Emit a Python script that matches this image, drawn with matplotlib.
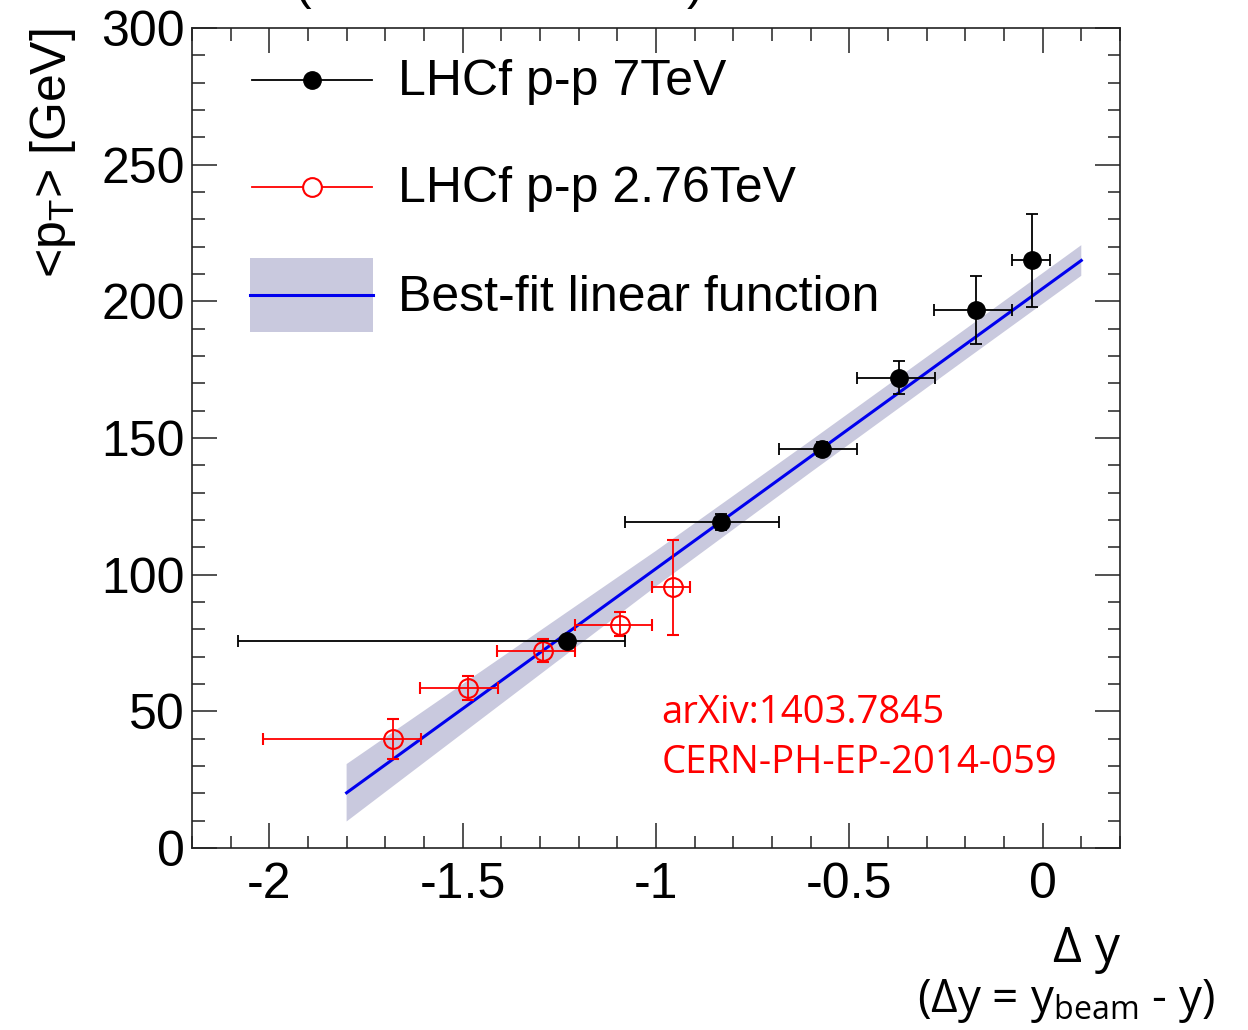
import matplotlib
matplotlib.use("Agg")
import matplotlib.pyplot as plt
from matplotlib.ticker import MultipleLocator
import numpy as np

# ---- data ----
x_7 = [-1.231, -0.831, -0.570, -0.372, -0.173, -0.028]
y_7 = [75.7, 119.3, 146.0, 172.0, 196.8, 215.1]
x7_lo = [0.849, 0.250, 0.111, 0.108, 0.108, 0.052]
x7_hi = [0.150, 0.150, 0.090, 0.093, 0.093, 0.048]
y7_lo = [2.0, 3.0, 2.5, 6.0, 12.5, 17.0]
y7_hi = [2.0, 3.0, 2.5, 6.0, 12.5, 17.0]

x_276 = [-1.680, -1.486, -1.293, -1.094, -0.957]
y_276 = [39.9, 58.5, 72.1, 81.6, 95.5]
x276_lo = [0.335, 0.124, 0.119, 0.116, 0.052]
x276_hi = [0.072, 0.077, 0.083, 0.085, 0.046]
y276_lo = [7.3, 4.3, 4.1, 4.0, 17.6]
y276_hi = [7.3, 4.4, 4.4, 4.8, 17.2]

fit_slope = 102.5
fit_intercept = 204.7
band_x = [-1.8, -1.4, -1.0, -0.6, -0.2, 0.1]
band_half = [10.5, 8.5, 6.5, 5.8, 5.6, 5.6]

xticks = [-2, -1.5, -1, -0.5, 0]
xticklabels = ["-2", "-1.5", "-1", "-0.5", "0"]
yticks = [0, 50, 100, 150, 200, 250, 300]

band_color = (0.79, 0.79, 0.87)

plt.rcParams['font.family'] = ['Liberation Sans', 'DejaVu Sans']
fig = plt.figure(figsize=(12.48, 10.30), dpi=100)
ax = fig.add_axes([0.1538, 0.1767, 0.7436, 0.7961])
ax.set_xlim(-2.2, 0.2)
ax.set_ylim(0, 300)

# fit band and line
bx = np.array(band_x)
by = fit_intercept + fit_slope * bx
bh = np.array(band_half)
ax.fill_between(bx, by - bh, by + bh, facecolor=band_color, edgecolor='none', zorder=1)
ax.plot(bx, by, color='#0000ee', lw=2.2, zorder=2)

# data
ax.errorbar(x_7, y_7, xerr=[x7_lo, x7_hi], yerr=[y7_lo, y7_hi], fmt='o', color='black',
            ms=12.5, ecolor='black', elinewidth=1.3, capsize=4, capthick=1.3, zorder=4)
ax.errorbar(x_276, y_276, xerr=[x276_lo, x276_hi], yerr=[y276_lo, y276_hi], fmt='o',
            mfc='none', mec='red', mew=1.5, color='red', ms=13.5, ecolor='red',
            elinewidth=1.3, capsize=4, capthick=1.3, zorder=3)

# axes styling (ROOT-like)
ax.set_xticks(xticks)
ax.set_xticklabels(xticklabels)
ax.set_yticks(yticks)
ax.xaxis.set_minor_locator(MultipleLocator(0.1))
ax.yaxis.set_minor_locator(MultipleLocator(10))
ax.tick_params(which='both', direction='in', top=True, right=True, width=1.1, color='#222222')
ax.tick_params(which='major', length=18)
ax.tick_params(which='minor', length=9)
ax.tick_params(axis='both', which='major', labelsize=36)
ax.tick_params(axis='x', which='major', pad=10)
ax.tick_params(axis='y', which='major', pad=5)
for s in ax.spines.values():
    s.set_linewidth(1.2)
    s.set_color('#222222')

# axis labels
ax.set_ylabel(r'<p$_{\mathregular{T}}$> [GeV]', fontsize=36)
ax.yaxis.set_label_coords(-0.123, 1.0)
ax.yaxis.label.set_horizontalalignment('right')
fig.text(0.897, 0.066, 'Δ y', fontsize=36, ha='right', va='baseline',
         family=['Open Sans', 'DejaVu Sans'])
fig.text(0.974, 0.017, r'(Δy = y$_{\mathregular{beam}}$ - y)', fontsize=33, ha='right',
         va='baseline', family=['Open Sans', 'DejaVu Sans'])

# top (cut) title
fig.text(0.40, 0.991, '(2.76TeV vs 7TeV)', fontsize=36, ha='center', va='bottom')

# annotation
ax.text(0.506, 0.152, 'arXiv:1403.7845', transform=ax.transAxes, color='red', fontsize=27.5,
        family=['Open Sans', 'DejaVu Sans'], va='baseline')
ax.text(0.506, 0.091, 'CERN-PH-EP-2014-059', transform=ax.transAxes, color='red', fontsize=27.5,
        family=['Open Sans', 'DejaVu Sans'], va='baseline')

# legend (manual)
def axx(px):
    return (px - 192) / 928.0

def axy(py):
    return (848 - py) / 820.0

T = ax.transAxes
ax.plot([axx(252), axx(372)], [axy(80), axy(80)], color='black', lw=1.3, transform=T, clip_on=False)
ax.plot([axx(312)], [axy(80)], 'o', color='black', ms=12.5, transform=T, clip_on=False)
ax.text(axx(398), axy(82), 'LHCf p-p 7TeV', fontsize=36, va='center', transform=T)

ax.plot([axx(252), axx(372)], [axy(187), axy(187)], color='red', lw=1.3, transform=T, clip_on=False)
ax.plot([axx(312)], [axy(187)], 'o', mfc='white', mec='red', mew=1.5, ms=13.5, transform=T, clip_on=False)
ax.text(axx(398), axy(189), 'LHCf p-p 2.76TeV', fontsize=36, va='center', transform=T)

ax.add_patch(plt.Rectangle((axx(250), axy(332)), axx(373) - axx(250), axy(258) - axy(332),
                           facecolor=band_color, edgecolor='none', transform=T))
ax.plot([axx(250), axx(373)], [axy(295), axy(295)], color='#0000ee', lw=2.2, transform=T)
ax.text(axx(398), axy(298), 'Best-fit linear function', fontsize=36, va='center', transform=T)

fig.savefig('out.png', dpi=100)
